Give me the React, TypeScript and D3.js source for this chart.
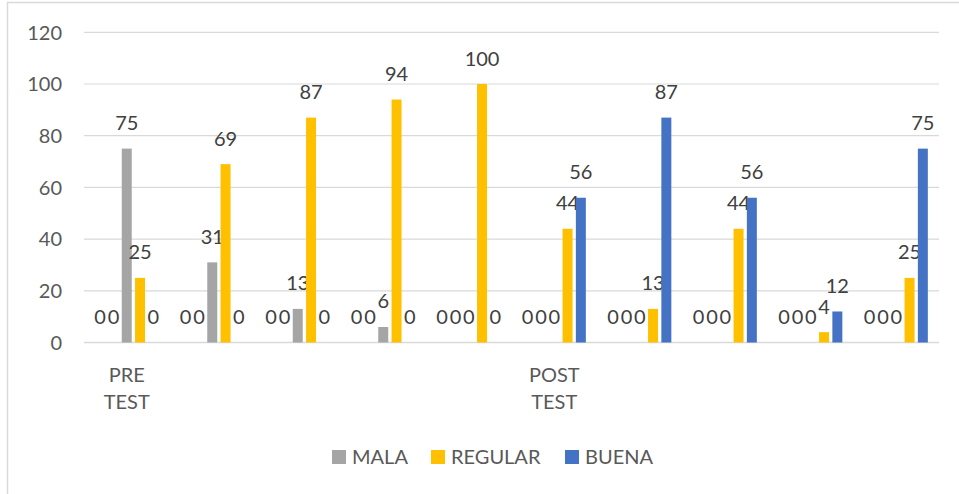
import React from "react";
import * as d3 from "d3";

const categories = ["PRE TEST", "", "", "", "", "POST TEST", "", "", "", ""];
const serieA = [0, 0, 0, 0, 0, 0, 0, 0, 0, 0];
const serieB = [0, 0, 0, 0, 0, 0, 0, 0, 0, 0];
const mala = [75, 31, 13, 6, 0, 0, 0, 0, 0, 0];
const regular = [25, 69, 87, 94, 100, 44, 13, 44, 4, 25];
const buena = [0, 0, 0, 0, 0, 56, 87, 56, 12, 75];
const yTicks = [0, 20, 40, 60, 80, 100, 120];

const series = [
  { name: "", values: serieA, color: "none", legend: false },
  { name: "", values: serieB, color: "none", legend: false },
  { name: "MALA", values: mala, color: "#A5A5A5", legend: true },
  { name: "REGULAR", values: regular, color: "#FFC000", legend: true },
  { name: "BUENA", values: buena, color: "#4472C4", legend: true },
];

const W = 959;
const H = 494;
const FONT = "Lato, 'Open Sans', sans-serif";

export default function App() {
  const x0 = d3.scaleBand<number>().domain(d3.range(categories.length)).range([84, 939]).padding(0);
  const y = d3.scaleLinear().domain([0, 120]).range([342.5, 32.3]);
  const clusterW = 66.5;
  const x1 = d3
    .scaleBand<number>()
    .domain(d3.range(series.length))
    .range([-clusterW / 2, clusterW / 2])
    .paddingInner(0.25)
    .paddingOuter(0.125);

  const legendItems = [
    { name: "MALA", color: "#A5A5A5", x: 332 },
    { name: "REGULAR", color: "#FFC000", x: 431 },
    { name: "BUENA", color: "#4472C4", x: 565 },
  ];

  return (
    <svg width={W} height={H} style={{ position: "absolute", left: 0, top: 0, background: "#fff" }} fontFamily={FONT}>
      <rect x={7.5} y={2.5} width={1000} height={600} fill="#fff" stroke="#d9d9d9" strokeWidth={1.5} />
      {yTicks.map((t) => (
        <g key={t}>
          <line x1={84} x2={939} y1={y(t)} y2={y(t)} stroke="#d9d9d9" strokeWidth={t === 0 ? 1.5 : 1.2} />
          <text x={62} y={y(t)} dy="0.36em" textAnchor="end" fontSize={20} fill="#595959">
            {t}
          </text>
        </g>
      ))}
      {categories.map((c, i) => {
        const cx = (x0(i) as number) + x0.bandwidth() / 2;
        return (
          <g key={"c" + i}>
            {series.map((s, j) => {
              const v = s.values[i];
              const bx = cx + (x1(j) as number);
              const bw = x1.bandwidth();
              return (
                <g key={j}>
                  {v > 0 && s.color !== "none" && (
                    <rect x={bx} y={y(v)} width={bw} height={y(0) - y(v)} fill={s.color} />
                  )}
                  <text x={bx + bw / 2} y={y(v) - 18.5} textAnchor="middle" fontSize={20} fill="#404040">
                    {v}
                  </text>
                </g>
              );
            })}
            {c.split(" ").map((w, k) =>
              w ? (
                <text key={k} x={cx} y={382 + k * 27} textAnchor="middle" fontSize={20} fill="#595959">
                  {w}
                </text>
              ) : null
            )}
          </g>
        );
      })}
      {legendItems.map((l) => (
        <g key={l.name}>
          <rect x={l.x} y={450} width={14} height={14} fill={l.color} />
          <text x={l.x + 20} y={463.5} fontSize={20} fill="#595959">
            {l.name}
          </text>
        </g>
      ))}
    </svg>
  );
}
